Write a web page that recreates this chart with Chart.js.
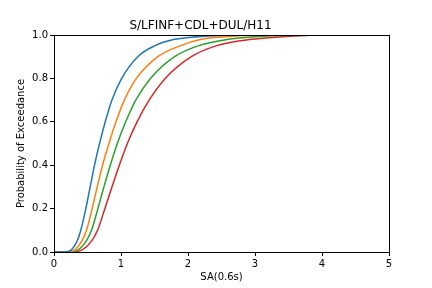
<!DOCTYPE html>
<html>
<head>
<meta charset="utf-8">
<script src="https://cdn.jsdelivr.net/npm/chart.js@4"></script>
<style>
html,body{margin:0;padding:0;background:#fff;}
#wrap{width:432px;height:288px;}
</style>
</head>
<body>
<div id="wrap"><canvas id="c" width="432" height="288"></canvas></div>
<script>
// Probability levels and the SA values at which each curve reaches them
const probLevels = [0, 0, 0.01, 0.05, 0.1, 0.2, 0.3, 0.4, 0.5, 0.6, 0.7, 0.8, 0.9, 0.95, 0.98, 0.99, 0.998, 1.0];
const saBlue   = [0, 0.15, 0.26, 0.345, 0.40, 0.475, 0.54, 0.605, 0.68, 0.765, 0.865, 1.01, 1.25, 1.50, 1.80, 2.05, 2.45, 3.0];
const saOrange = [0, 0.18, 0.31, 0.415, 0.485, 0.57, 0.645, 0.725, 0.82, 0.925, 1.05, 1.23, 1.55, 1.88, 2.20, 2.45, 2.90, 3.5];
const saGreen  = [0, 0.20, 0.36, 0.48, 0.56, 0.655, 0.745, 0.84, 0.945, 1.07, 1.22, 1.44, 1.80, 2.15, 2.60, 2.90, 3.40, 3.8];
const saRed    = [0, 0.24, 0.42, 0.56, 0.65, 0.76, 0.865, 0.975, 1.095, 1.24, 1.42, 1.66, 2.05, 2.42, 2.95, 3.30, 3.75, 4.0];
const xTicks = [0, 1, 2, 3, 4, 5];
const yTicks = [0, 0.2, 0.4, 0.6, 0.8, 1.0];
const titleText = "S/LFINF+CDL+DUL/H11";
const xLabel = "SA(0.6s)";
const yLabel = "Probability of Exceedance";

function pts(xs){ return xs.map((x,i)=>({x:x, y:probLevels[i]})); }
const series = [
  {data: saBlue, color: '#1f77b4'},
  {data: saOrange, color: '#ff7f0e'},
  {data: saGreen, color: '#2ca02c'},
  {data: saRed, color: '#d62728'}
];

const frame = {
  id: 'frame',
  afterDatasetsDraw(chart){
    const a = chart.chartArea, ctx = chart.ctx;
    ctx.save();
    ctx.strokeStyle = '#000';
    ctx.lineWidth = 1;
    ctx.strokeRect(Math.round(a.left)+0.5, Math.round(a.top)+0.5, Math.round(a.right-a.left), Math.round(a.bottom-a.top));
    ctx.restore();
  }
};

const font = {family: 'DejaVu Sans', size: 10};
new Chart(document.getElementById('c'), {
  type: 'line',
  data: {
    datasets: series.map(s => ({
      data: pts(s.data),
      borderColor: s.color,
      borderWidth: 1.5,
      pointRadius: 0,
      fill: false,
      cubicInterpolationMode: 'monotone'
    }))
  },
  options: {
    responsive: false,
    animation: false,
    layout: {padding: {left: 12, right: 43, top: 0, bottom: 0}},
    plugins: {
      legend: {display: false},
      tooltip: {enabled: false},
      title: {display: true, text: titleText, color: '#000',
        font: {family: 'DejaVu Sans', size: 12, weight: 'normal'},
        padding: {top: 19, bottom: 1.6}}
    },
    scales: {
      x: {
        type: 'linear', min: 0, max: 5,
        afterBuildTicks: s => { s.ticks = xTicks.map(v => ({value: v})); },
        afterFit: s => { s.height = 36; },
        ticks: {color: '#000', font: font, padding: 2, maxRotation: 0, callback: v => String(v)},
        grid: {drawOnChartArea: false, tickLength: 4, color: '#000'},
        border: {display: false},
        title: {display: true, text: xLabel, color: '#000', font: font, padding: {top: 0, bottom: 5}}
      },
      y: {
        type: 'linear', min: 0, max: 1,
        afterBuildTicks: s => { s.ticks = yTicks.map(v => ({value: v})); },
        afterFit: s => { s.width = 42; },
        ticks: {color: '#000', font: font, padding: 2, callback: v => Number(v).toFixed(1)},
        grid: {drawOnChartArea: false, tickLength: 4, color: '#000'},
        border: {display: false},
        title: {display: true, text: yLabel, color: '#000', font: font, padding: {top: 3, bottom: 0}}
      }
    }
  },
  plugins: [frame]
});
</script>
</body>
</html>
